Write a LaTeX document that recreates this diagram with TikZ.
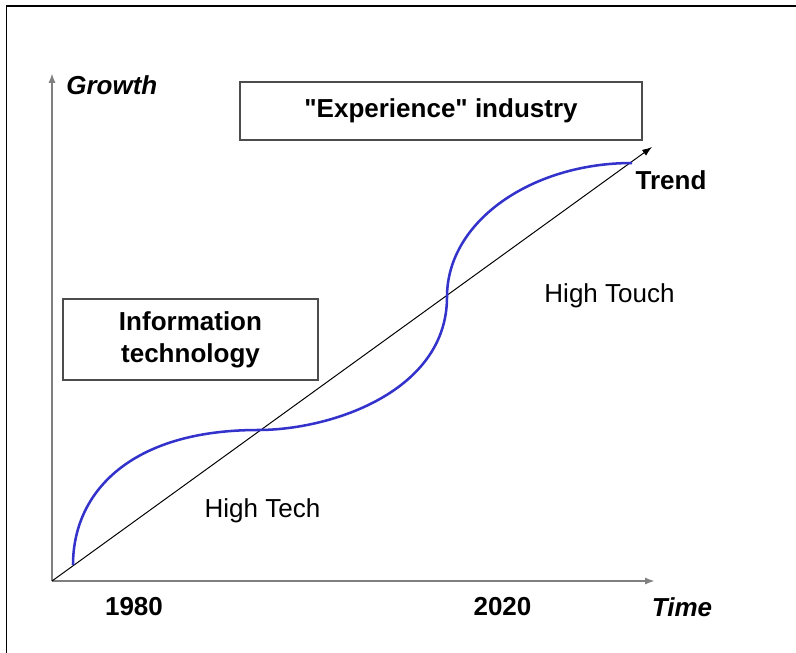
\documentclass[tikz,border=0pt]{standalone}
\usepackage{fontspec}
\setmainfont{Liberation Sans}
\usepackage{tikz}
\usetikzlibrary{arrows.meta}
\tikzset{>={Latex[length=7pt,width=5pt]}}
\usepackage{xcolor}
\definecolor{curveblue}{RGB}{51,51,204}
\tikzset{
  lbl/.style={inner sep=0pt,font=\fontsize{18.5}{22.8}\selectfont},
  box/.style={draw=black!70,line width=0.8pt,lbl,align=center},
  axis/.style={->,draw=black!50,line width=1.4pt}
}

\begin{document}
\begin{tikzpicture}[x=0.25cm,y=0.25cm]
  \useasboundingbox (-5.2,-7.1) rectangle (74.4,58.1);
  \draw[line width=1pt] (-4.55,-7.2) -- (-4.55,57.5) -- (74.5,57.5);
  \coordinate (O) at (0,0);
  \coordinate (ytip) at (0,50.8);
  \coordinate (xtip) at (60.3,0);
  \coordinate (ttip) at (60,43.4);
  \coordinate (c0) at (2.1,1.6);
  \coordinate (c1) at (20.6,15.1);
  \coordinate (c2) at (39.5,28.4);
  \coordinate (c3) at (58,41.8);
  \draw[axis] (O) -- (ytip);
  \draw[axis] (O) -- (xtip);
  \draw[->,line width=0.7pt] (O) -- (ttip);
  \draw[curveblue,line width=1.8pt] (c0) .. controls (2.1,9) and (8,15.1) .. (c1)
    .. controls (28,15.1) and (39.5,19) .. (c2)
    .. controls (39.5,36) and (48,41.8) .. (c3);
  \node[lbl,anchor=west] (growth) at (1.4,49.6) {\textbf{\textit{Growth}}};
  \node[lbl] (time) at (63,-2.6) {\textbf{\textit{Time}}};
  \node[lbl] (y1980) at (8.2,-2.6) {\textbf{1980}};
  \node[lbl] (y2020) at (45.05,-2.6) {\textbf{2020}};
  \node[lbl] (trend) at (61.9,40.1) {\textbf{Trend}};
  \node[lbl] (hightech) at (21.05,7.0) {High Tech};
  \node[lbl] (hightouch) at (55.75,28.5) {High Touch};
  \node[box,minimum width=10.05cm,minimum height=1.45cm] (experience) at (38.9,47)
    {\textbf{\textquotedbl Experience\textquotedbl{} industry}};
  \node[box,minimum width=6.375cm,minimum height=2.025cm] (infotech) at (13.85,24.15)
    {\textbf{Information}\\\textbf{technology}};
\end{tikzpicture}
\end{document}
